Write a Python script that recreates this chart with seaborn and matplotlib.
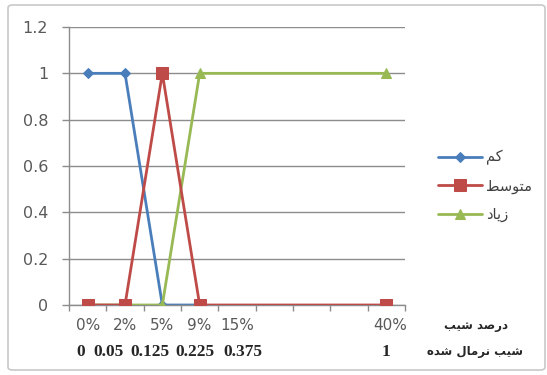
import numpy as np
import pandas as pd
import matplotlib
matplotlib.use("Agg")
import matplotlib.pyplot as plt
from matplotlib.patches import FancyBboxPatch
import seaborn as sns

# Category axis: slope percentage, with the normalised slope shown underneath
slope_pct = ["0%", "2%", "5%", "9%", "15%", "", "", "", "40%"]
slope_norm = ["0", "0.05", "0.125", "0.225", "0.375", "", "", "", "1"]

# Membership values per class (NaN = no point in that category)
low = [1, 1, 0, 0, np.nan, np.nan, np.nan, np.nan, np.nan]
medium = [0, 0, 1, 0, np.nan, np.nan, np.nan, np.nan, 0]
high = [0, np.nan, 0, 1, np.nan, np.nan, np.nan, np.nan, 1]

# Persian labels written in presentation (shaped, visual-order) forms
lbl_low = "\uFEE2\uFB90"                       # کم
lbl_medium = "\uFEC2\uFEB3\uFEEE\uFE98\uFEE3"  # متوسط
lbl_high = "\uFEA9\uFE8E\uFBFE\uFEAF"          # زیاد
lbl_pct = "\uFE90\uFBFF\uFEB7 \uFEAA\uFEBB\uFEAD\uFEA9"                      # درصد شیب
lbl_norm = "\uFEE9\uFEAA\uFEB7 \uFEDD\uFE8E\uFEE3\uFEAE\uFEE7 \uFE90\uFBFF\uFEB7"  # شیب نرمال شده

sns.set_theme(style="white")
plt.rcParams["font.family"] = ["DejaVu Sans"]

W, H = 547, 375
fig = plt.figure(figsize=(W / 100, H / 100), dpi=100)
fig.patch.set_facecolor("white")

# chart-area frame
fig.patches.append(FancyBboxPatch((8 / W, 5 / H), 537 / W, 365 / H,
                                  boxstyle="round,pad=0,rounding_size=0.008",
                                  transform=fig.transFigure, facecolor="none",
                                  edgecolor="#c8c8c8", linewidth=1.2))

x0, x1, ytop, ybot = 69, 405, 27, 305
ax = fig.add_axes([x0 / W, 1 - ybot / H, (x1 - x0) / W, (ybot - ytop) / H])

pos = np.arange(len(slope_pct))
series = [
    (low, lbl_low, "#4a7ebb", "D", 5.5, 2),
    (medium, lbl_medium, "#be4b48", "s", 8.0, 4),
    (high, lbl_high, "#98b954", "^", 7.5, 3),
]
for vals, name, color, mk, ms, z in series:
    df = pd.DataFrame({"x": pos, "y": vals}).dropna()
    sns.lineplot(data=df, x="x", y="y", ax=ax, color=color, linewidth=2,
                 marker=mk, markersize=ms, markeredgecolor=color,
                 markerfacecolor=color, label=name, sort=False, zorder=z)

ax.set_xlim(-0.5, len(slope_pct) - 0.5)
ax.set_ylim(0, 1.2)
ax.set_yticks(np.arange(0, 1.21, 0.2))
ax.set_yticklabels(["0", "0.2", "0.4", "0.6", "0.8", "1", "1.2"])
ax.yaxis.grid(True, color="#8c8c8c", linewidth=1)
ax.set_axisbelow(True)
ax.set_xlabel("")
ax.set_ylabel("")

# tick marks at category boundaries, labels drawn separately below
ax.set_xticks(np.arange(-0.5, len(slope_pct), 1.0))
ax.set_xticklabels([])
ax.tick_params(axis="x", which="both", direction="out", length=4, color="#8c8c8c", width=1, bottom=True)
ax.tick_params(axis="y", direction="out", length=5, color="#8c8c8c", width=1,
               labelsize=11.5, labelcolor="#595959", pad=10, left=True)
for side in ["top", "right"]:
    ax.spines[side].set_visible(False)
for side in ["left", "bottom"]:
    ax.spines[side].set_color("#8c8c8c")
    ax.spines[side].set_linewidth(1)

trans = ax.get_xaxis_transform()
for i, t in enumerate(slope_pct):
    if t:
        ax.text(i + (0.1 if t == "40%" else 0), -0.075, t, transform=trans, ha="center", va="center",
                fontsize=11, color="#595959", fontfamily="DejaVu Sans")
norm_x = [-0.18, 0.57, 1.67, 2.88, 4.15, None, None, None, 8.0]
for t, xp in zip(slope_norm, norm_x):
    if t:
        ax.text(xp, -0.168, t, transform=trans, ha="center", va="center",
                fontsize=12.5, color="#262626", fontfamily="Liberation Serif", fontweight="bold")

fig.text(476 / W, 1 - 326 / H, lbl_pct, ha="center", va="center", fontsize=8.5,
         color="#262626", fontweight="bold", fontfamily="DejaVu Sans")
fig.text(475 / W, 1 - 352 / H, lbl_norm, ha="center", va="center", fontsize=8.5,
         color="#262626", fontweight="bold", fontfamily="DejaVu Sans")

leg = ax.legend(loc="center left", bbox_to_anchor=(432 / W, 1 - 186 / H),
                bbox_transform=fig.transFigure, frameon=False, fontsize=10.5,
                handlelength=3.0, labelspacing=0.9, handletextpad=0.3,
                numpoints=1, borderaxespad=0)
for txt in leg.get_texts():
    txt.set_color("#404040")

fig.savefig("out.png", dpi=100, facecolor="white")
